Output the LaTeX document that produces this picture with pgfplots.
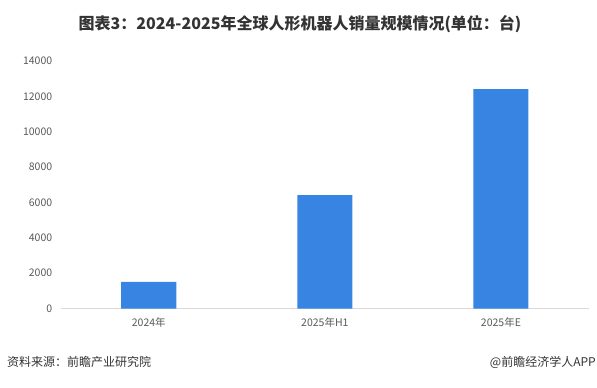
\documentclass[border=0pt]{standalone}
\usepackage{fontspec}
\setmainfont{Noto Sans CJK SC}
\usepackage{pgfplots}
\pgfplotsset{compat=1.18}
\definecolor{barblue}{RGB}{56,132,226}
\definecolor{txtgray}{RGB}{89,89,89}
\definecolor{axgray}{RGB}{217,217,217}
\definecolor{titlec}{RGB}{51,51,51}
\begin{document}
\begin{tikzpicture}
\path[use as bounding box] (0,0) rectangle (597bp,388bp);
\begin{axis}[
  at={(60.7bp,79.5bp)}, anchor=south west,
  scale only axis, width=528.3bp, height=247.5bp,
  xmin=-0.5, xmax=2.5, ymin=0, ymax=14000,
  ytick={0,2000,...,14000},
  scaled y ticks=false,
  xtick={0,1,2},
  xticklabels={2024年,2025年H1,2025年E},
  axis lines*=left,
  x axis line style={draw=axgray, line width=0.8bp, -},
  y axis line style={draw=none},
  major tick length=0pt,
  tick style={draw=none},
  /pgf/number format/assume math mode=true,
  /pgf/number format/1000 sep={},
  tick label style={font=\fontsize{10.5bp}{12bp}\selectfont, text=txtgray},
  xticklabel style={yshift=-6bp},
  yticklabel style={xshift=-5bp},
  ybar, bar width=0.3125,
]
\addplot[draw=none, fill=barblue] coordinates {(0,1500) (1,6420) (2,12410)};
\end{axis}
\node[font=\fontsize{16bp}{19bp}\selectfont\bfseries, text=titlec] at (300bp,364bp) {图表3：2024-2025年全球人形机器人销量规模情况(单位：台)};
\node[font=\fontsize{12bp}{14bp}\selectfont, text=titlec, anchor=west, inner sep=0pt] at (7bp,26bp) {资料来源：前瞻产业研究院};
\node[font=\fontsize{12bp}{14bp}\selectfont, text=titlec, anchor=east, inner sep=0pt] at (596bp,26bp) {@前瞻经济学人APP};
\end{tikzpicture}
\end{document}
